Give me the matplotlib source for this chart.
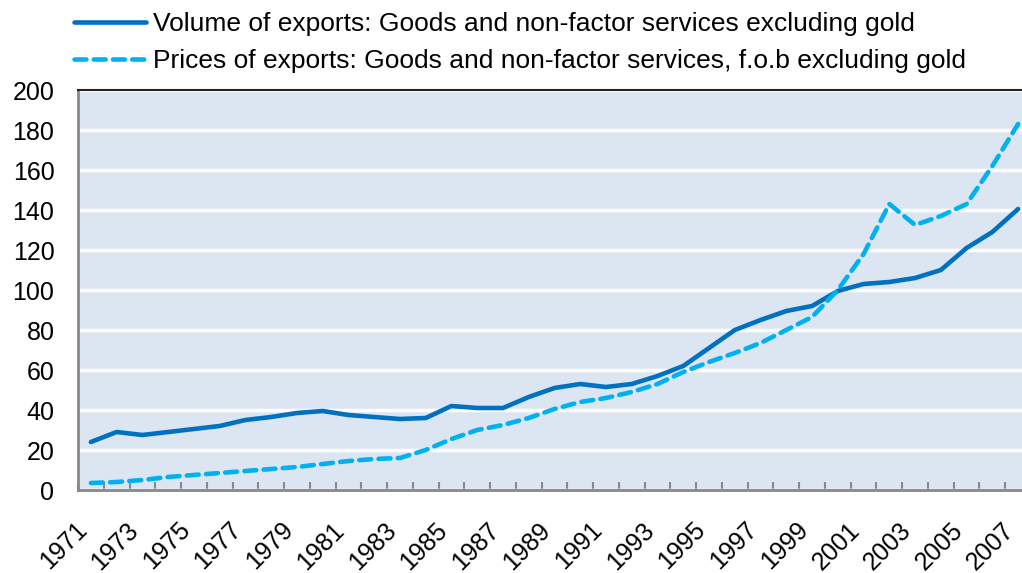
import numpy as np
import matplotlib.pyplot as plt
from matplotlib.transforms import ScaledTranslation

plt.rcParams['font.family'] = ['Liberation Sans', 'DejaVu Sans']

years = list(range(1971, 2008))
volume = [24, 29, 27.5, 29, 30.5, 32, 35, 36.5, 38.5, 39.5,
          37.5, 36.5, 35.5, 36, 42, 41, 41, 46.5, 51, 53,
          51.5, 53, 57, 62, 71, 80, 85, 89.5, 92, 99.5,
          103, 104, 106, 110, 121, 129, 140.5]
prices = [3.5, 4, 5, 6.5, 7.5, 8.5, 9.5, 10.5, 11.5, 13,
          14.5, 15.5, 16, 20, 25.5, 30, 32.5, 36, 40.5, 44,
          46, 49, 53, 59, 64, 68.5, 73.5, 80, 86.5, 100,
          118, 143, 132.5, 137, 143, 162, 183]

labels = ['Volume of exports: Goods and non-factor services excluding gold',
          'Prices of exports: Goods and non-factor services, f.o.b excluding gold']

fig = plt.figure(figsize=(10.22, 5.73), dpi=100)
# plot area runs slightly past the right edge, as in the original
ax = fig.add_axes([78/1022, 1 - 490/573, 953/1022, 400/573])
ax.set_facecolor('#DCE6F2')

x = np.arange(len(years))
l1, = ax.plot(x, volume, color='#0070C0', lw=3.3, solid_capstyle='round')
l2, = ax.plot(x, prices, color='#00B0F0', lw=3.3, ls=(0, (2.6, 1.6)),
              dash_capstyle='round')

ax.set_xlim(-0.5, len(years) - 0.5)
ax.set_ylim(0, 200)
ax.set_yticks(range(0, 201, 20))
ax.yaxis.grid(True, color='white', lw=2.5)
ax.set_axisbelow(True)
ax.tick_params(axis='y', length=0, labelsize=18, pad=17)

ax.set_xticks(x[::2])
ax.set_xticklabels([str(y) for y in years[::2]], rotation=45, ha='right',
                   rotation_mode='anchor', fontsize=18)
ax.set_xticks(np.arange(-0.5, len(years), 1), minor=True)
ax.tick_params(axis='x', which='major', length=0, pad=20)
ax.tick_params(axis='x', which='minor', direction='in', length=6,
               color='#888888', width=1.5)
shift = ScaledTranslation(-16/100, 0, fig.dpi_scale_trans)
for lab in ax.get_xticklabels():
    lab.set_transform(lab.get_transform() + shift)

for s in ['left', 'bottom']:
    ax.spines[s].set_color('#888888')
    ax.spines[s].set_linewidth(2)
ax.spines['right'].set_visible(False)
ax.spines['top'].set_color('#222222')
ax.spines['top'].set_linewidth(1.5)

fig.legend([l1, l2], labels, loc='upper left', bbox_to_anchor=(50/1022, 1.02),
           frameon=False, fontsize=19, handlelength=2.73, handletextpad=0.27,
           labelspacing=0.5)

fig.savefig('out.png', dpi=100)
